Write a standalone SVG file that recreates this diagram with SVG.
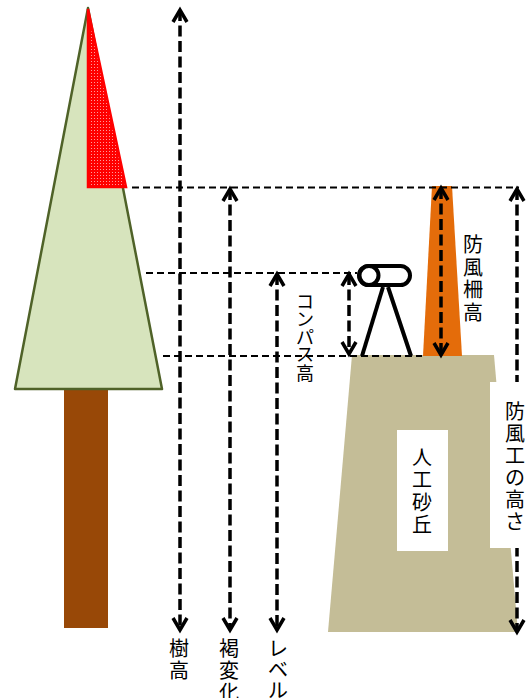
<svg xmlns="http://www.w3.org/2000/svg" width="527" height="698" viewBox="0 0 527 698">
  <style>
    .lbl { font-family: "Noto Sans CJK JP", "Noto Sans", sans-serif; font-size: 20px; fill: #000; text-anchor: middle; }
    .small { font-size: 18px; }
    .guide { fill: none; stroke: #000; stroke-width: 2; stroke-dasharray: 7 4; }
    .dim { fill: none; stroke: #000; stroke-width: 3.5; stroke-dasharray: 11 4.5; marker-start: url(#chev); marker-end: url(#chev); }
  </style>
  <defs>
    <pattern id="dots" width="3" height="3" patternUnits="userSpaceOnUse">
      <rect width="3" height="3" fill="#ff0000"/>
      <rect x="1" y="1" width="1" height="1" fill="#ff9a9a"/>
    </pattern>
    <marker id="chev" markerUnits="userSpaceOnUse" markerWidth="30" markerHeight="30" refX="0" refY="0" orient="auto-start-reverse" overflow="visible">
      <path d="M-12,-7 L0,0 L-12,7" fill="none" stroke="#000" stroke-width="3.5" stroke-dasharray="none" stroke-linejoin="miter"/>
    </marker>
  </defs>

  <!-- tree -->
  <g id="tree">
    <rect x="64" y="389" width="44" height="239" fill="#984807"/>
    <polygon points="88,8 162,389 15,389" fill="#d7e4bd" stroke="#4f6228" stroke-width="2.5" stroke-linejoin="round"/>
    <polygon points="88,9 126,187 88,187" fill="url(#dots)" stroke="#ff0000" stroke-width="2.5"/>
  </g>

  <!-- artificial dune -->
  <g id="dune">
    <polygon points="352,355 494,355 518,632 328,632" fill="#c4bd97"/>
  </g>

  <!-- windbreak fence -->
  <g id="fence">
    <polygon points="432,186 452,186 462,356 423,356" fill="#e46c0a"/>
  </g>

  <!-- compass on tripod -->
  <g id="compass" fill="none" stroke="#000" stroke-width="4">
    <line x1="383" y1="287" x2="362" y2="356"/>
    <line x1="388" y1="287" x2="411" y2="356"/>
    <rect x="359" y="266" width="51" height="19" rx="9.5" fill="#fff"/>
    <circle cx="369" cy="275.5" r="9.5" fill="#fff"/>
  </g>

  <!-- guide lines and dimension arrows -->
  <g id="connectors">
    <line class="guide" x1="132" y1="187.5" x2="519" y2="187.5"/>
    <line class="guide" x1="146" y1="273" x2="357" y2="273"/>
    <line class="guide" x1="163" y1="356" x2="422" y2="356"/>

    <line class="dim" x1="180" y1="10" x2="180" y2="630"/>
    <line class="dim" x1="230" y1="189" x2="230" y2="630"/>
    <line class="dim" x1="277" y1="274" x2="277" y2="630"/>
    <line class="dim" x1="349" y1="274" x2="349" y2="354"/>
    <line class="dim" x1="441" y1="188" x2="441" y2="355"/>
    <line class="dim" x1="517" y1="189" x2="517" y2="632"/>
  </g>

  <!-- labels -->
  <g id="label-tree-height">
    <text class="lbl" x="179"><tspan x="179" y="656">樹</tspan><tspan x="179" y="678">高</tspan></text>
  </g>
  <g id="label-browning">
    <text class="lbl" x="229"><tspan x="229" y="656">褐</tspan><tspan x="229" y="678">変</tspan><tspan x="229" y="700">化</tspan></text>
  </g>
  <g id="label-level">
    <text class="lbl" x="278"><tspan x="278" y="656">レ</tspan><tspan x="278" y="677">ベ</tspan><tspan x="278" y="698">ル</tspan></text>
  </g>
  <g id="label-compass">
    <text class="lbl small" x="305"><tspan x="305" y="308">コ</tspan><tspan x="305" y="326">ン</tspan><tspan x="305" y="344">パ</tspan><tspan x="305" y="361">ス</tspan><tspan x="305" y="380">高</tspan></text>
  </g>
  <g id="label-fence">
    <text class="lbl" x="473"><tspan x="473" y="252">防</tspan><tspan x="473" y="275">風</tspan><tspan x="473" y="297">柵</tspan><tspan x="473" y="320">高</tspan></text>
  </g>
  <g id="label-dune">
    <rect x="397" y="430" width="51" height="121" fill="#fff"/>
    <text class="lbl" x="422"><tspan x="422" y="465">人</tspan><tspan x="422" y="487">工</tspan><tspan x="422" y="510">砂</tspan><tspan x="422" y="532">丘</tspan></text>
  </g>
  <g id="label-windbreak-height">
    <rect x="490" y="382" width="40" height="166" fill="#fff"/>
    <text class="lbl" x="515"><tspan x="515" y="419">防</tspan><tspan x="515" y="441">風</tspan><tspan x="515" y="463">工</tspan><tspan x="515" y="485">の</tspan><tspan x="515" y="507">高</tspan><tspan x="515" y="529">さ</tspan></text>
  </g>
</svg>
